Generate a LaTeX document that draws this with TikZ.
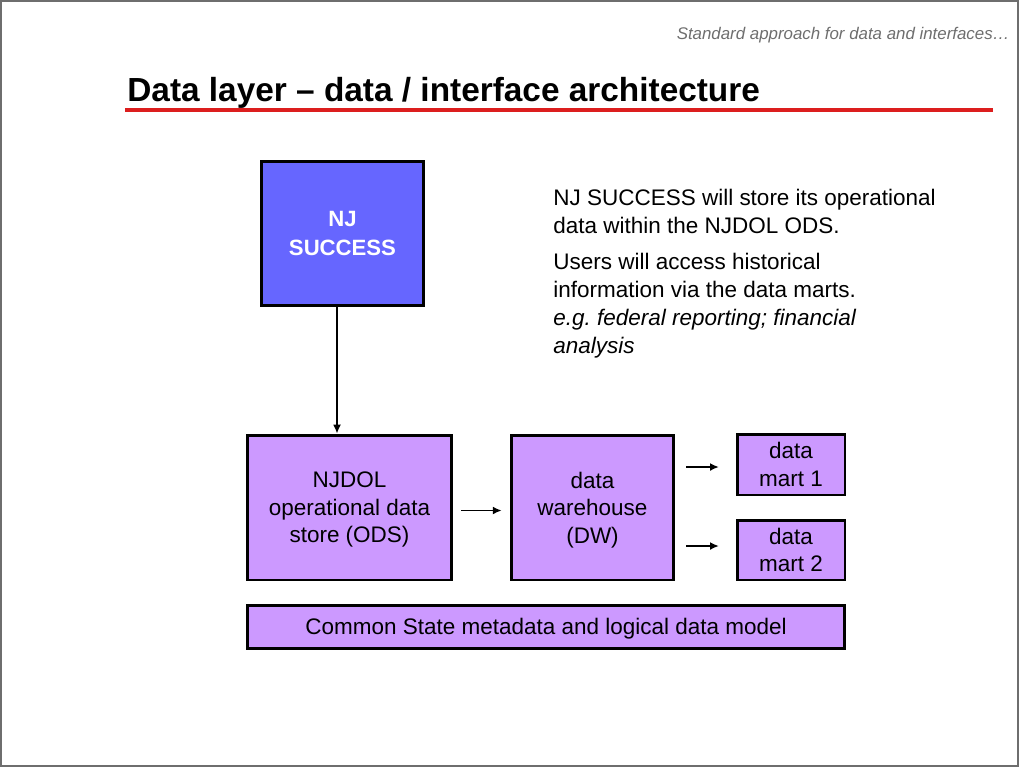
\documentclass[tikz,border=0pt]{standalone}
\usepackage{fontspec}
\setmainfont{Liberation Sans}
\usetikzlibrary{calc, positioning, arrows.meta}
\frenchspacing

\definecolor{njblue}{RGB}{102,102,255}
\definecolor{lilac}{RGB}{204,153,255}
\definecolor{slidered}{RGB}{220,30,30}
\definecolor{framegray}{RGB}{110,110,110}

\begin{document}
\begin{tikzpicture}[x=0.02cm, y=-0.02cm, >={Latex[length=5pt,width=4.5pt]},
    box/.style={draw, line width=1.7pt, rectangle, align=center, inner sep=0pt, text depth=0pt,
        font=\fontsize{12.8}{15.6}\selectfont},
    flow/.style={->, line width=0.85pt}]
        \useasboundingbox (0,0) rectangle (1024,768);
        \draw[framegray, line width=1.2pt] (1,1) rectangle (1018,766);

        \node[anchor=east, inner sep=0pt, text=framegray, font=\fontsize{9.6}{11}\selectfont\itshape] (hdr) at (1010,35) {Standard approach for data and interfaces\ldots};
        \node[anchor=west, inner sep=0pt, font=\fontsize{19}{22}\selectfont\bfseries] (title) at (127,93) {Data layer -- data / interface architecture};
        \draw[slidered, line width=1.8pt] (125,110) -- (993,110);

        \node[box, fill=njblue, text=white, font=\fontsize{12.6}{16.4}\selectfont\bfseries, minimum width=3.26cm, minimum height=2.9cm] (njs) at (342.5,233.5) {NJ\\SUCCESS};
        \node[box, fill=lilac, minimum width=4.1cm, minimum height=2.9cm] (ods) at (349.5,507.5) {NJDOL\\operational data\\store (ODS)};
        \node[box, fill=lilac, minimum width=3.26cm, minimum height=2.9cm] (dw) at (592.5,507.5) {data\\warehouse\\(DW)};
        \node[box, fill=lilac, minimum width=2.16cm, minimum height=1.22cm] (mart1) at (791,464.5) {data\\mart 1};
        \node[box, fill=lilac, minimum width=2.16cm, minimum height=1.2cm] (mart2) at (791,550) {data\\mart 2};
        \node[box, fill=lilac, minimum width=11.96cm, minimum height=0.86cm] (meta) at (546,626.5) {Common State metadata and logical data model};

        \node[anchor=north west, align=left, inner sep=0pt, font=\fontsize{12.8}{15.9}\selectfont] (notes) at (553,189)
            {NJ SUCCESS will store its operational\\data within the NJDOL ODS.\\[4.5pt]
             Users will access historical\\information via the data marts.\\
             \textit{e.g. federal reporting; financial}\\\textit{analysis}};

        \draw[flow] ([xshift=-0.11cm]njs.south) -- ([xshift=-0.11cm]njs.south |- ods.north);
        \draw[flow, shorten <=4.5pt, shorten >=4.5pt] ($(ods.east)+(0,3)$) -- ($(dw.west)+(0,3)$);
        \draw[flow, shorten <=6pt, shorten >=9.5pt] ($(dw.east |- mart1.west)+(0,2.5)$) -- ($(mart1.west)+(0,2.5)$);
        \draw[flow, shorten <=6pt, shorten >=9.5pt] ($(dw.east |- mart2.west)+(0,-4)$) -- ($(mart2.west)+(0,-4)$);
    \end{tikzpicture}
\end{document}
